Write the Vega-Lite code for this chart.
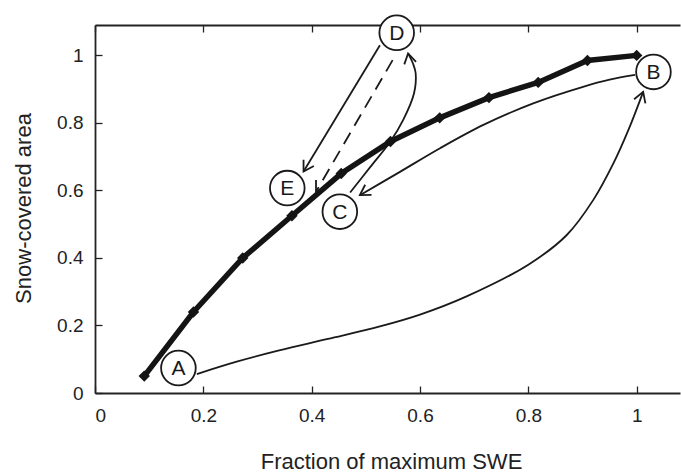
{
  "$schema": "https://vega.github.io/schema/vega-lite/v6.json",
  "width": 585,
  "height": 368,
  "autosize": {"type": "none"},
  "padding": {"left": 95, "top": 25, "right": 1, "bottom": 79},
  "background": "white",
  "config": {
    "view": {"stroke": null},
    "font": "Liberation Sans",
    "axis": {
      "grid": false,
      "domainColor": "#222",
      "domainWidth": 1.8,
      "tickColor": "#222",
      "tickWidth": 1.3,
      "tickSize": -7,
      "labelFont": "Liberation Sans",
      "labelFontSize": 19,
      "labelColor": "#222",
      "titleFont": "Liberation Sans",
      "titleFontSize": 22,
      "titleFontWeight": "normal",
      "titleColor": "#222"
    }
  },
  "datasets": {
    "main": [
      {"x": 0.0909, "y": 0.05},
      {"x": 0.1818, "y": 0.24},
      {"x": 0.2727, "y": 0.40},
      {"x": 0.3636, "y": 0.525},
      {"x": 0.4545, "y": 0.65},
      {"x": 0.5455, "y": 0.745},
      {"x": 0.6364, "y": 0.815},
      {"x": 0.7273, "y": 0.875},
      {"x": 0.8182, "y": 0.92},
      {"x": 0.9091, "y": 0.985},
      {"x": 1.0, "y": 1.0}
    ],
    "curves": [
      {"curve": "AB", "i": 0, "x": 0.188, "y": 0.056},
      {"curve": "AB", "i": 1, "x": 0.26, "y": 0.092},
      {"curve": "AB", "i": 2, "x": 0.34, "y": 0.126},
      {"curve": "AB", "i": 3, "x": 0.43, "y": 0.16},
      {"curve": "AB", "i": 4, "x": 0.526, "y": 0.197},
      {"curve": "AB", "i": 5, "x": 0.60, "y": 0.232},
      {"curve": "AB", "i": 6, "x": 0.686, "y": 0.286},
      {"curve": "AB", "i": 7, "x": 0.80, "y": 0.38},
      {"curve": "AB", "i": 8, "x": 0.871, "y": 0.468},
      {"curve": "AB", "i": 9, "x": 0.92, "y": 0.572},
      {"curve": "AB", "i": 10, "x": 0.957, "y": 0.68},
      {"curve": "AB", "i": 11, "x": 0.985, "y": 0.78},
      {"curve": "AB", "i": 12, "x": 1.012, "y": 0.892},
      {"curve": "BC", "i": 0, "x": 0.997, "y": 0.942},
      {"curve": "BC", "i": 1, "x": 0.95, "y": 0.928},
      {"curve": "BC", "i": 2, "x": 0.901, "y": 0.907},
      {"curve": "BC", "i": 3, "x": 0.809, "y": 0.858},
      {"curve": "BC", "i": 4, "x": 0.717, "y": 0.794},
      {"curve": "BC", "i": 5, "x": 0.637, "y": 0.725},
      {"curve": "BC", "i": 6, "x": 0.563, "y": 0.655},
      {"curve": "BC", "i": 7, "x": 0.489, "y": 0.586},
      {"curve": "CD", "i": 0, "x": 0.471, "y": 0.594},
      {"curve": "CD", "i": 1, "x": 0.508, "y": 0.669},
      {"curve": "CD", "i": 2, "x": 0.545, "y": 0.744},
      {"curve": "CD", "i": 3, "x": 0.569, "y": 0.809},
      {"curve": "CD", "i": 4, "x": 0.589, "y": 0.888},
      {"curve": "CD", "i": 5, "x": 0.592, "y": 0.947},
      {"curve": "CD", "i": 6, "x": 0.587, "y": 0.976},
      {"curve": "CD", "i": 7, "x": 0.578, "y": 1.006},
      {"curve": "DE", "i": 0, "x": 0.526, "y": 1.03},
      {"curve": "DE", "i": 1, "x": 0.385, "y": 0.656}
    ],
    "dashed": [
      {"i": 0, "x": 0.5495, "y": 0.986},
      {"i": 1, "x": 0.408, "y": 0.596}
    ],
    "arrows": [
      {"x": 1.012, "y": 0.892, "heading": 290},
      {"x": 0.489, "y": 0.586, "heading": 148},
      {"x": 0.578, "y": 1.006, "heading": 258},
      {"x": 0.385, "y": 0.656, "heading": 121},
      {"x": 0.408, "y": 0.596, "heading": 121}
    ],
    "labels": [
      {"label": "A", "x": 0.154, "y": 0.074},
      {"label": "B", "x": 1.031, "y": 0.951},
      {"label": "C", "x": 0.452, "y": 0.537},
      {"label": "D", "x": 0.557, "y": 1.067},
      {"label": "E", "x": 0.355, "y": 0.607}
    ]
  },
  "encoding": {
    "x": {"field": "x", "type": "quantitative", "scale": {"domain": [0, 1.08], "nice": false, "zero": false}, "axis": null},
    "y": {
      "field": "y", "type": "quantitative",
      "scale": {"domain": [0, 1.09], "nice": false, "zero": false},
      "axis": {
        "orient": "left",
        "values": [0, 0.2, 0.4, 0.6, 0.8, 1],
        "format": ".1~f",
        "labelPadding": 19,
        "title": "Snow-covered area",
        "titleAngle": -90,
        "titleX": -65,
        "titleY": 183,
        "titleAlign": "center",
        "titleBaseline": "alphabetic"
      }
    }
  },
  "layer": [
    {
      "data": {"name": "curves"},
      "mark": {"type": "line", "color": "#1a1a1a", "strokeWidth": 1.8, "interpolate": "catmull-rom"},
      "encoding": {
        "x": {
          "field": "x", "type": "quantitative",
          "scale": {"domain": [0, 1.08], "nice": false, "zero": false},
          "axis": {
            "orient": "bottom",
            "values": [0, 0.2, 0.4, 0.6, 0.8, 1],
            "format": ".1~f",
            "labelPadding": 20,
            "title": "Fraction of maximum SWE",
            "titleX": 296,
            "titleY": 75,
            "titleAlign": "center",
            "titleBaseline": "alphabetic"
          }
        },
        "detail": {"field": "curve"},
        "order": {"field": "i", "type": "quantitative"}
      }
    },
    {
      "data": {"name": "dashed"},
      "mark": {"type": "line", "color": "#1a1a1a", "strokeWidth": 1.8, "strokeDash": [13, 8]},
      "encoding": {
        "x": {
          "field": "x", "type": "quantitative",
          "scale": {"domain": [0, 1.08], "nice": false, "zero": false},
          "axis": {
            "orient": "top",
            "values": [0, 0.2, 0.4, 0.6, 0.8, 1],
            "labels": false,
            "title": null
          }
        },
        "order": {"field": "i", "type": "quantitative"}
      }
    },
    {
      "data": {"name": "main"},
      "mark": {"type": "line", "color": "#141414", "strokeWidth": 5.5}
    },
    {
      "data": {"name": "main"},
      "mark": {"type": "point", "shape": "diamond", "filled": true, "color": "#141414", "size": 130, "opacity": 1}
    },
    {
      "data": {"name": "arrows"},
      "mark": {"type": "point", "shape": "M-1,-0.6L0,0L-1,0.6", "filled": false, "stroke": "#1a1a1a", "strokeWidth": 1.8, "size": 400, "opacity": 1},
      "encoding": {
        "angle": {"field": "heading", "type": "quantitative", "scale": null}
      }
    },
    {
      "data": {"name": "labels"},
      "mark": {"type": "point", "shape": "circle", "filled": true, "fill": "white", "stroke": "#1a1a1a", "strokeWidth": 1.8, "size": 1200, "opacity": 1, "fillOpacity": 1, "clip": false}
    },
    {
      "data": {"name": "labels"},
      "mark": {"type": "text", "font": "Liberation Sans", "fontSize": 21, "color": "#1a1a1a", "align": "center", "baseline": "middle", "dy": 1},
      "encoding": {"text": {"field": "label"}}
    }
  ],
  "resolve": {"scale": {"x": "independent"}}
}
